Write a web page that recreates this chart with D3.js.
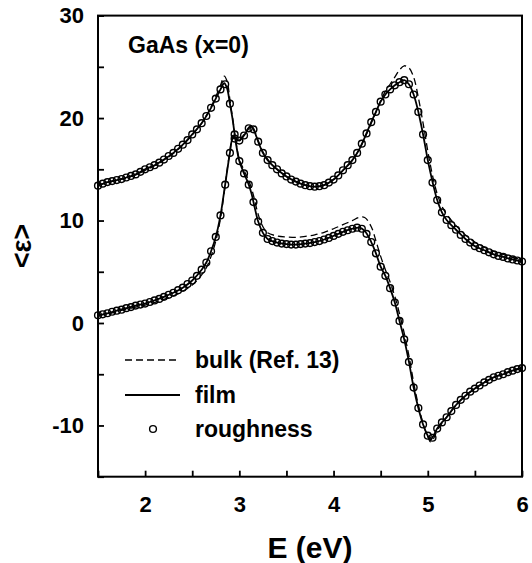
<!DOCTYPE html>
<html><head><meta charset="utf-8">
<script src="https://cdn.jsdelivr.net/npm/d3@7"></script>
<style>
html,body{margin:0;padding:0;background:#fff;}
text{font-family:"Liberation Sans",Arial,sans-serif;font-weight:bold;fill:#000;}
</style></head>
<body><svg id="c" width="532" height="563"></svg>
<script>
// energy grid for bulk and film curves (eV)
const energy = [1.5,1.6,1.7,1.8,1.9,2.0,2.1,2.2,2.3,2.4,2.5,2.6,2.65,2.7,2.75,2.8,2.84,2.87,2.9,2.93,2.96,3.0,3.05,3.1,3.13,3.16,3.2,3.25,3.3,3.4,3.5,3.6,3.7,3.8,3.9,4.0,4.1,4.2,4.27,4.33,4.4,4.45,4.5,4.55,4.6,4.65,4.7,4.75,4.8,4.85,4.9,4.95,5.0,5.03,5.06,5.1,5.15,5.2,5.3,5.4,5.5,5.6,5.7,5.8,5.9,6.0];
const filmE1 = [13.4,13.75,13.95,14.2,14.5,15.0,15.4,15.95,16.6,17.4,18.4,19.5,20.2,21.0,21.9,22.8,23.4,22.9,21.4,19.8,17.8,15.8,14.6,13.5,12.6,11.4,9.9,8.8,8.2,7.85,7.7,7.65,7.75,7.9,8.15,8.5,8.9,9.2,9.3,9.0,7.9,6.8,5.5,4.6,3.4,2.0,0.2,-1.6,-3.8,-6.3,-8.3,-9.9,-11.0,-11.4,-11.0,-10.3,-9.7,-9.2,-8.0,-7.1,-6.4,-5.8,-5.3,-5.0,-4.65,-4.4];
const filmE2 = [0.75,0.95,1.2,1.45,1.7,1.9,2.2,2.55,2.95,3.45,4.15,5.2,5.9,7.0,8.4,10.5,12.9,14.8,16.6,18.0,18.0,17.8,18.3,19.0,19.2,18.7,17.7,16.6,15.9,15.0,14.3,13.8,13.45,13.3,13.45,14.0,14.9,15.9,16.9,18.1,19.6,20.6,21.6,22.3,22.8,23.2,23.5,23.7,23.3,22.3,20.6,18.4,15.9,14.6,13.4,12.0,10.8,10.05,9.1,8.2,7.5,7.1,6.7,6.45,6.2,6.0];
const bulkE1 = [13.4,13.7,13.9,14.15,14.45,14.9,15.35,15.9,16.55,17.35,18.35,19.5,20.25,21.1,22.1,23.2,24.1,23.6,21.8,19.9,17.9,16.0,14.9,13.9,13.1,12.1,10.6,9.4,8.8,8.5,8.4,8.35,8.45,8.6,8.85,9.2,9.6,10.0,10.3,10.3,9.4,8.0,6.5,5.2,4.0,2.6,0.9,-1.0,-3.2,-5.8,-8.0,-9.8,-11.1,-11.6,-11.3,-10.5,-9.8,-9.2,-8.0,-7.1,-6.4,-5.8,-5.3,-4.95,-4.6,-4.35];
const bulkE2 = [0.75,0.9,1.1,1.35,1.55,1.75,2.0,2.3,2.65,3.1,3.7,4.7,5.4,6.5,8.0,10.2,12.8,14.9,16.8,18.2,18.1,17.9,18.4,19.1,19.3,18.8,17.8,16.7,16.0,15.0,14.3,13.8,13.45,13.3,13.45,14.0,14.9,15.9,16.9,18.0,19.5,20.6,21.7,22.6,23.3,24.0,24.7,25.1,24.9,24.0,22.0,19.5,16.8,15.3,14.0,12.6,11.4,10.6,9.5,8.6,7.9,7.4,7.0,6.7,6.4,6.15];
// roughness model points (eV)
const roughEnergy = [1.5,1.55,1.6,1.65,1.7,1.75,1.8,1.85,1.9,1.95,2.0,2.05,2.1,2.15,2.2,2.25,2.3,2.35,2.4,2.45,2.5,2.55,2.6,2.65,2.7,2.75,2.8,2.85,2.9,2.95,3.0,3.05,3.1,3.15,3.2,3.25,3.3,3.35,3.4,3.45,3.5,3.55,3.6,3.65,3.7,3.75,3.8,3.85,3.9,3.95,4.0,4.05,4.1,4.15,4.2,4.25,4.3,4.35,4.4,4.45,4.5,4.55,4.6,4.65,4.7,4.75,4.8,4.85,4.9,4.95,5.0,5.05,5.1,5.15,5.2,5.25,5.3,5.35,5.4,5.45,5.5,5.55,5.6,5.65,5.7,5.75,5.8,5.85,5.9,5.95,6.0];
const roughE1 = [13.4,13.6,13.75,13.85,13.95,14.05,14.2,14.35,14.5,14.75,15.0,15.2,15.4,15.65,15.95,16.3,16.6,17.0,17.4,17.85,18.4,18.9,19.5,20.2,21.0,21.9,22.8,23.3,21.4,18.4,15.8,14.6,13.5,11.8,9.9,8.8,8.2,8.0,7.85,7.75,7.7,7.65,7.65,7.7,7.75,7.8,7.9,8.0,8.15,8.3,8.5,8.7,8.9,9.05,9.2,9.3,9.2,8.7,7.9,6.8,5.5,4.6,3.4,2.0,0.2,-1.6,-3.8,-6.3,-8.3,-9.9,-11.0,-11.2,-10.3,-9.7,-9.2,-8.6,-8.0,-7.5,-7.1,-6.7,-6.4,-6.1,-5.8,-5.55,-5.3,-5.15,-5.0,-4.8,-4.65,-4.5,-4.4];
const roughE2 = [0.75,0.85,0.95,1.1,1.2,1.3,1.45,1.55,1.7,1.8,1.9,2.05,2.2,2.35,2.55,2.75,2.95,3.2,3.45,3.8,4.15,4.6,5.2,5.9,7.0,8.4,10.5,13.5,16.6,18.0,17.8,18.3,19.0,18.9,17.7,16.6,15.9,15.4,15.0,14.6,14.3,14.0,13.8,13.6,13.45,13.35,13.3,13.35,13.45,13.7,14.0,14.4,14.9,15.4,15.9,16.6,17.5,18.5,19.6,20.6,21.6,22.3,22.8,23.2,23.5,23.7,23.3,22.3,20.6,18.4,15.9,13.7,12.0,10.8,10.05,9.55,9.1,8.6,8.2,7.85,7.5,7.3,7.1,6.9,6.7,6.55,6.45,6.3,6.2,6.1,6.0];
const xTicks = [1.5,2,2.5,3,3.5,4,4.5,5,5.5,6];
const yTicks = [-15,-10,-5,0,5,10,15,20,25,30];
const legendLabels = ["bulk (Ref. 13)","film","roughness"];

const svg = d3.select("#c");
const L=98, R=522, T=15.6, B=476.7;
const x = d3.scaleLinear().domain([1.5,6]).range([L,R]);
const y = d3.scaleLinear().domain([-15,30]).range([B,T]);

const line = d3.line().x(d=>x(d[0])).y(d=>y(d[1])).curve(d3.curveCatmullRom.alpha(0.5));
const pairs = (xs,ys)=>xs.map((v,i)=>[v,ys[i]]);

// bulk dashed
[bulkE1,bulkE2].forEach(s=>{
  svg.append("path").attr("d",line(pairs(energy,s))).attr("fill","none")
    .attr("stroke","#000").attr("stroke-width",1.3).attr("stroke-dasharray","7,4");
});
// film solid
[filmE1,filmE2].forEach(s=>{
  svg.append("path").attr("d",line(pairs(energy,s))).attr("fill","none")
    .attr("stroke","#000").attr("stroke-width",1.8);
});
// roughness circles
[roughE1,roughE2].forEach(s=>{
  svg.append("g").selectAll("circle").data(pairs(roughEnergy,s)).join("circle")
    .attr("cx",d=>x(d[0])).attr("cy",d=>y(d[1])).attr("r",3.4)
    .attr("fill","none").attr("stroke","#000").attr("stroke-width",1.4);
});

// frame
svg.append("rect").attr("x",L).attr("y",T).attr("width",R-L).attr("height",B-T)
  .attr("fill","none").attr("stroke","#000").attr("stroke-width",2);

// x axis
const gx = svg.append("g").attr("transform",`translate(0,${B})`)
  .call(d3.axisBottom(x).tickValues(xTicks).tickSizeInner(-6).tickSizeOuter(0).tickPadding(20)
    .tickFormat(d=>Number.isInteger(d)?String(d):""));
gx.select(".domain").remove();
gx.selectAll("line").attr("stroke-width",1.8);
gx.selectAll("text").attr("font-size",22).attr("font-family","Liberation Sans, Arial, sans-serif").attr("font-weight","bold");

// y axis
const gy = svg.append("g").attr("transform",`translate(${L},0)`)
  .call(d3.axisLeft(y).tickValues(yTicks).tickSizeInner(-6).tickSizeOuter(0).tickPadding(14)
    .tickFormat(d=>(d%10===0)?String(d):""));
gy.select(".domain").remove();
gy.selectAll("line").attr("stroke-width",1.8);
gy.selectAll("text").attr("font-size",22).attr("font-family","Liberation Sans, Arial, sans-serif").attr("font-weight","bold");

// titles
svg.append("text").attr("x",(L+R)/2).attr("y",558).attr("text-anchor","middle")
  .attr("font-size",30).text("E (eV)");
svg.append("text").attr("transform",`translate(22,${(T+B)/2}) rotate(-90)`)
  .attr("text-anchor","middle").attr("dominant-baseline","central")
  .attr("font-size",27).text("<ε>");
svg.append("text").attr("x",128).attr("y",53).attr("font-size",23).text("GaAs (x=0)");

// legend
const lg = svg.append("g");
lg.append("line").attr("x1",125).attr("x2",180).attr("y1",360).attr("y2",360)
  .attr("stroke","#000").attr("stroke-width",1.3).attr("stroke-dasharray","7,4");
lg.append("line").attr("x1",125).attr("x2",180).attr("y1",395).attr("y2",395)
  .attr("stroke","#000").attr("stroke-width",1.8);
lg.append("circle").attr("cx",153).attr("cy",429).attr("r",3.4)
  .attr("fill","none").attr("stroke","#000").attr("stroke-width",1.4);
lg.selectAll("text.lt").data(legendLabels).join("text").attr("class","lt")
  .attr("x",195).attr("y",(d,i)=>[368,403,437][i]).attr("font-size",23).text(d=>d);
</script></body></html>
